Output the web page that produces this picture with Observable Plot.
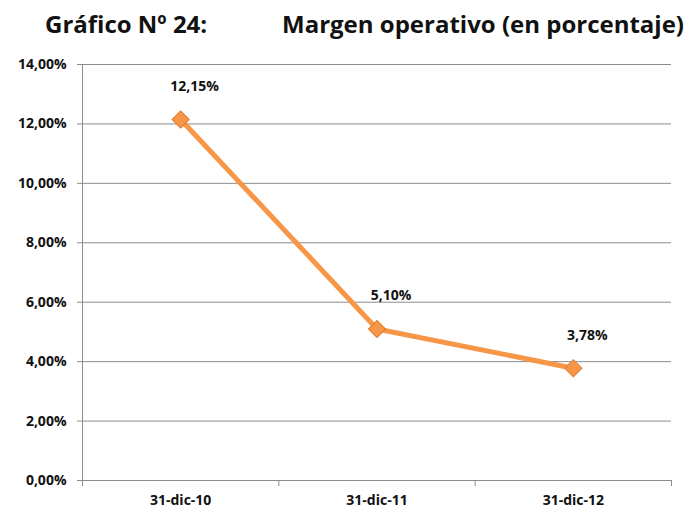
<!DOCTYPE html>
<html>
<head>
<meta charset="utf-8">
<script src="https://cdn.jsdelivr.net/npm/d3@7"></script>
<script src="https://cdn.jsdelivr.net/npm/@observablehq/plot@0.6"></script>
<style>
  html, body { margin: 0; padding: 0; background: #fff; }
  #wrap { width: 695px; position: relative; font-family: "Open Sans", Lato, sans-serif; }
  #title { height: 50px; position: relative; font-weight: 700; font-size: 24px; line-height: 1; color: #111; }
  #title span { position: absolute; top: 12px; white-space: nowrap; }
</style>
</head>
<body>
<div id="wrap">
  <div id="title"><span style="left:45px">Gráfico Nº 24:</span><span style="left:282px">Margen operativo (en porcentaje)</span></div>
  <div id="chart"></div>
</div>
<script>
const categories = ["31-dic-10", "31-dic-11", "31-dic-12"];
const values = [12.15, 5.10, 3.78];
const yTicks = [0, 2, 4, 6, 8, 10, 12, 14];

const locale = d3.formatLocale({decimal: ",", thousands: ".", grouping: [3], currency: ["", "€"]});
const fmt = locale.format(".2f");
const pct = v => fmt(v) + "%";

const data = categories.map((c, i) => ({i, c, v: values[i]}));
const boundaries = d3.range(categories.length + 1).map(k => k - 0.5);

const orange = "#F79646";

const chart = Plot.plot({
  width: 695,
  height: 458,
  marginLeft: 82,
  marginRight: 24,
  marginTop: 14,
  marginBottom: 28,
  style: {fontFamily: "'Open Sans', Lato, sans-serif", fontSize: "14px", fontWeight: "700", color: "#111"},
  x: {domain: [-0.5, categories.length - 0.5], axis: null},
  y: {domain: [0, 14], axis: null},
  marks: [
    Plot.ruleY(yTicks, {stroke: "#8c8c8c", strokeWidth: 1}),
    Plot.ruleX([-0.5], {stroke: "#8c8c8c", strokeWidth: 1}),
    Plot.axisY({ticks: yTicks, tickFormat: pct, tickSize: 5, stroke: "#8c8c8c", tickPadding: 11, fontWeight: 700, fontSize: 14, fill: "#111", label: null}),
    Plot.axisX({ticks: boundaries, tickFormat: () => "", tickSize: 6, stroke: "#8c8c8c", label: null}),
    Plot.axisX({ticks: d3.range(categories.length), tickFormat: i => categories[i], tickSize: 0, tickPadding: 15, fontWeight: 700, fontSize: 14, fill: "#111", label: null}),
    Plot.line(data, {x: "i", y: "v", stroke: orange, strokeWidth: 5, strokeLinejoin: "round"}),
    Plot.dot(data, {x: "i", y: "v", symbol: "square", r: 6.8, rotate: 45, fill: orange, stroke: "#E07B2E", strokeWidth: 1, style: {filter: "drop-shadow(1px 2px 1.5px rgba(0,0,0,0.35))"}}),
    Plot.text(data, {x: "i", y: "v", text: d => pct(d.v), dy: -33, dx: 14, fontWeight: 700, fontSize: 14, fill: "#111"})
  ]
});
document.getElementById("chart").appendChild(chart);
</script>
</body>
</html>
